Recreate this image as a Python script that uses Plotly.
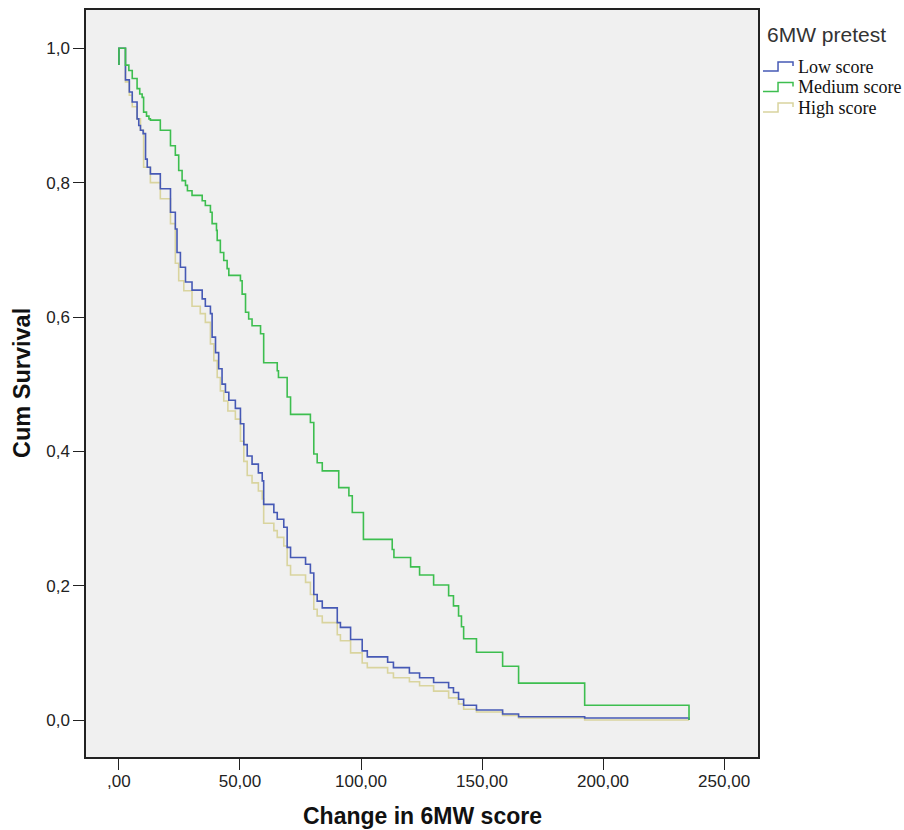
import plotly.graph_objects as go

# Change in 6MW score (step start) and cumulative survival
low_x = [0, 0, 2.7, 4.3, 5.5, 7.5, 8.2, 8.9, 10.0, 11.0, 11.7, 13.0, 17.1, 21.3, 23.3, 24.0, 25.4,
         27.5, 30.2, 34.4, 35.7, 37.8, 38.5, 39.9, 41.2, 42.6, 44.0, 45.4, 48.1, 50.2, 51.6, 53.0,
         55.0, 57.6, 59.2, 59.8, 64.0, 65.4, 68.1, 69.5, 70.9, 77.1, 79.1, 80.5, 81.9, 84.0, 90.2,
         91.5, 95.7, 100.5, 102.6, 111.0, 113.4, 120.0, 124.2, 130.0, 136.2, 138.2, 140.3, 142.4,
         147.7, 158.5, 165.1, 192.4, 235.5]
low_y = [0.975, 1.0, 0.953, 0.935, 0.920, 0.895, 0.885, 0.878, 0.873, 0.835, 0.823, 0.813, 0.791,
         0.756, 0.731, 0.696, 0.674, 0.652, 0.640, 0.627, 0.616, 0.605, 0.570, 0.547, 0.523, 0.500,
         0.488, 0.476, 0.464, 0.441, 0.410, 0.393, 0.381, 0.368, 0.356, 0.321, 0.309, 0.299, 0.287,
         0.257, 0.242, 0.232, 0.219, 0.187, 0.177, 0.167, 0.145, 0.138, 0.120, 0.103, 0.094, 0.086,
         0.078, 0.070, 0.063, 0.056, 0.048, 0.041, 0.031, 0.022, 0.015, 0.009, 0.005, 0.003, 0.0]

med_x = [0, 0, 2.7, 4.1, 5.5, 7.5, 8.6, 9.6, 10.2, 11.4, 12.4, 13.0, 17.1, 21.3, 23.3, 24.7, 26.1,
         27.5, 28.3, 30.2, 34.4, 35.7, 37.8, 38.5, 40.3, 40.6, 41.9, 43.3, 44.7, 45.4, 50.2, 50.9,
         52.3, 53.6, 55.0, 58.5, 59.8, 65.4, 65.9, 69.5, 70.9, 79.1, 80.5, 81.9, 84.0, 90.8, 95.0,
         96.4, 101.0, 112.9, 113.6, 120.5, 124.2, 130.0, 136.2, 138.2, 140.3, 141.5, 142.4, 147.7,
         158.5, 165.1, 192.4, 235.5]
med_y = [0.975, 1.0, 0.975, 0.967, 0.955, 0.940, 0.932, 0.927, 0.905, 0.899, 0.895, 0.893, 0.878,
         0.855, 0.841, 0.818, 0.803, 0.796, 0.788, 0.781, 0.773, 0.766, 0.756, 0.739, 0.729, 0.714,
         0.696, 0.684, 0.672, 0.662, 0.654, 0.634, 0.607, 0.597, 0.587, 0.575, 0.532, 0.520, 0.510,
         0.481, 0.455, 0.443, 0.396, 0.383, 0.371, 0.346, 0.334, 0.309, 0.269, 0.254, 0.242, 0.228,
         0.216, 0.201, 0.185, 0.170, 0.155, 0.139, 0.121, 0.101, 0.080, 0.055, 0.022, 0.0]

high_x = [0, 0, 2.7, 4.3, 5.5, 7.5, 8.9, 10.2, 13.0, 17.1, 21.3, 23.3, 24.7, 26.8, 30.2, 33.6, 35.7,
          37.8, 39.2, 40.6, 41.9, 43.3, 45.0, 48.1, 50.2, 51.6, 53.0, 55.0, 57.6, 59.2, 59.8, 64.0,
          65.4, 68.1, 69.5, 70.9, 77.1, 79.1, 80.5, 81.9, 84.0, 90.2, 91.5, 95.7, 100.5, 102.6,
          111.0, 113.4, 120.0, 124.2, 130.0, 136.2, 140.3, 142.4, 147.7, 158.5, 165.1, 192.4, 235.5]
high_y = [0.975, 1.0, 0.950, 0.930, 0.913, 0.895, 0.878, 0.823, 0.800, 0.776, 0.739, 0.680, 0.654,
          0.639, 0.616, 0.605, 0.592, 0.560, 0.535, 0.510, 0.490, 0.475, 0.460, 0.448, 0.415, 0.385,
          0.364, 0.353, 0.341, 0.329, 0.293, 0.282, 0.272, 0.259, 0.230, 0.216, 0.205, 0.187, 0.165,
          0.155, 0.145, 0.127, 0.118, 0.100, 0.085, 0.078, 0.070, 0.063, 0.057, 0.051, 0.043, 0.033,
          0.024, 0.016, 0.012, 0.007, 0.003, 0.0, 0.0]

series_names = ["Low score", "Medium score", "High score"]
series_colors = ["#4659B5", "#3DBE4F", "#D9D49E"]
legend_title = "6MW pretest"
x_title = "Change in 6MW score"
y_title = "Cum Survival"

x_tickvals = [0, 50, 100, 150, 200, 250]
x_ticktext = [",00", "50,00", "100,00", "150,00", "200,00", "250,00"]
y_tickvals = [0.0, 0.2, 0.4, 0.6, 0.8, 1.0]
y_ticktext = ["0,0", "0,2", "0,4", "0,6", "0,8", "1,0"]

W, H = 904, 830
ML, MR, MT, MB = 86, 146, 10, 73
PW, PH = W - ML - MR, H - MT - MB


def px(xpix):
    return (xpix - ML) / PW


def py(ypix):
    return (H - MB - ypix) / PH


fig = go.Figure()
series = [(low_x, low_y), (med_x, med_y), (high_x, high_y)]
for i in [2, 0, 1]:
    xs, ys = series[i]
    fig.add_trace(go.Scatter(x=xs, y=ys, mode="lines", name=series_names[i], showlegend=False,
                             line=dict(color=series_colors[i], width=1.6, shape="hv")))

sans = "Liberation Sans, Arial, sans-serif"
annotations = [
    dict(text=legend_title, xref="paper", yref="paper", x=px(765), y=py(35),
         xanchor="left", yanchor="middle", showarrow=False,
         font=dict(family=sans, size=21, color="#333")),
    dict(text="<b>" + x_title + "</b>", xref="paper", yref="paper", x=0.5, y=py(816),
         xanchor="center", yanchor="middle", showarrow=False,
         font=dict(family=sans, size=23, color="#111")),
    dict(text="<b>" + y_title + "</b>", xref="paper", yref="paper", x=px(22), y=py(383),
         xanchor="center", yanchor="middle", showarrow=False, textangle=-90,
         font=dict(family=sans, size=23.5, color="#111")),
]
shapes = []
for i, name in enumerate(series_names):
    cy = 67 + i * 20.5
    annotations.append(dict(text=name, xref="paper", yref="paper", x=px(796), y=py(cy),
                            xanchor="left", yanchor="middle", showarrow=False,
                            font=dict(family="Liberation Serif, Times New Roman, serif", size=18, color="#111")))
    path = "M {:.4f} {:.4f} L {:.4f} {:.4f} L {:.4f} {:.4f} L {:.4f} {:.4f} L {:.4f} {:.4f}".format(
        px(763), py(cy + 4), px(778), py(cy + 4), px(778), py(cy - 5), px(793), py(cy - 5), px(793), py(cy - 1))
    shapes.append(dict(type="path", xref="paper", yref="paper", path=path,
                       line=dict(color=series_colors[i], width=1.5)))

fig.update_layout(
    width=W, height=H,
    margin=dict(l=ML, r=MR, t=MT, b=MB, autoexpand=False),
    paper_bgcolor="white", plot_bgcolor="#F0F0F0",
    showlegend=False,
    annotations=annotations, shapes=shapes,
    xaxis=dict(range=[-13.6, 264], tickvals=x_tickvals, ticktext=x_ticktext, automargin=False,
               showgrid=False, zeroline=False, showline=True, mirror=True,
               linecolor="#222", linewidth=1.5, ticks="outside", ticklen=11, tickcolor="#222",
               ticklabelstandoff=-3,
               tickfont=dict(family=sans, size=17, color="#222")),
    yaxis=dict(range=[-0.055, 1.057], tickvals=y_tickvals, ticktext=y_ticktext, automargin=False,
               showgrid=False, zeroline=False, showline=True, mirror=True,
               linecolor="#222", linewidth=1.5, ticks="outside", ticklen=11, tickcolor="#222",
               tickfont=dict(family=sans, size=17, color="#222")),
)

fig.write_html("out.html")
